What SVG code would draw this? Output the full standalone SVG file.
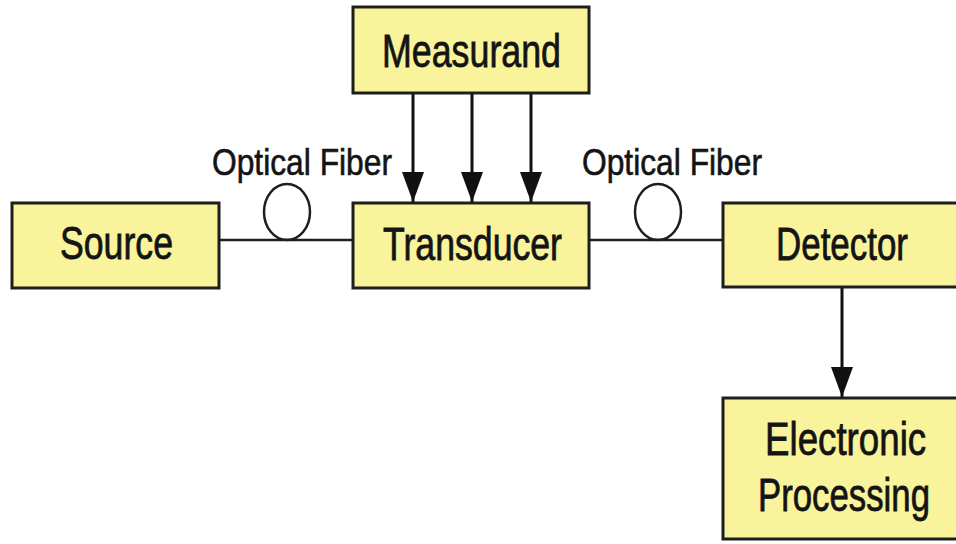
<svg xmlns="http://www.w3.org/2000/svg" width="956" height="544" viewBox="0 0 956 544">
<defs>
<style>
.box{fill:#f9f49b;stroke:#1e1e1e;stroke-width:3}
.lbl{font-family:"Liberation Sans",Arial,sans-serif;font-size:46px;fill:#141414;stroke:#141414;stroke-width:0.8}
.fib{font-family:"Liberation Sans",Arial,sans-serif;font-size:36px;fill:#141414;stroke:#141414;stroke-width:0.6}
.wire{stroke:#1e1e1e;stroke-width:2.5;fill:none}
.arr{stroke:#111;stroke-width:3;fill:none;marker-end:url(#ah)}
.loop{stroke:#1e1e1e;stroke-width:2.5;fill:none}
</style>
<marker id="ah" markerUnits="userSpaceOnUse" markerWidth="30" markerHeight="22" viewBox="0 0 30 22" refX="30" refY="11" orient="auto">
<path d="M0,0 L30,11 L0,22 z" fill="#111"/>
</marker>
</defs>
<rect width="956" height="544" fill="#ffffff"/>
<g id="connectors">
<line class="wire" x1="219" y1="240" x2="353" y2="240"/>
<ellipse class="loop" cx="287" cy="212" rx="23" ry="28"/>
<line class="wire" x1="589" y1="240" x2="723" y2="240"/>
<ellipse class="loop" cx="658" cy="212" rx="23" ry="28"/>
<line class="arr" x1="413" y1="93" x2="413" y2="202"/>
<line class="arr" x1="472" y1="93" x2="472" y2="202"/>
<line class="arr" x1="531" y1="93" x2="531" y2="202"/>
<line class="arr" x1="842" y1="287" x2="842" y2="397"/>
<text class="fib" x="212" y="175" textLength="180" lengthAdjust="spacingAndGlyphs">Optical Fiber</text>
<text class="fib" x="582" y="175" textLength="180" lengthAdjust="spacingAndGlyphs">Optical Fiber</text>
</g>
<g id="measurand">
<rect class="box" x="353" y="7" width="236" height="86"/>
<text class="lbl" x="382" y="67" textLength="179" lengthAdjust="spacingAndGlyphs">Measurand</text>
</g>
<g id="source">
<rect class="box" x="12" y="203" width="207" height="85"/>
<text class="lbl" x="60" y="259" textLength="113" lengthAdjust="spacingAndGlyphs">Source</text>
</g>
<g id="transducer">
<rect class="box" x="353" y="203" width="236" height="85"/>
<text class="lbl" x="383" y="260" textLength="179" lengthAdjust="spacingAndGlyphs">Transducer</text>
</g>
<g id="detector">
<rect class="box" x="723" y="203" width="260" height="84"/>
<text class="lbl" x="776" y="260" textLength="132" lengthAdjust="spacingAndGlyphs">Detector</text>
</g>
<g id="electronic">
<rect class="box" x="723" y="398" width="260" height="141"/>
<text class="lbl" transform="translate(765,455) scale(0.798,1)">Electronic</text>
<text class="lbl" transform="translate(758,511) scale(0.756,1)">Processing</text>
</g>
</svg>
